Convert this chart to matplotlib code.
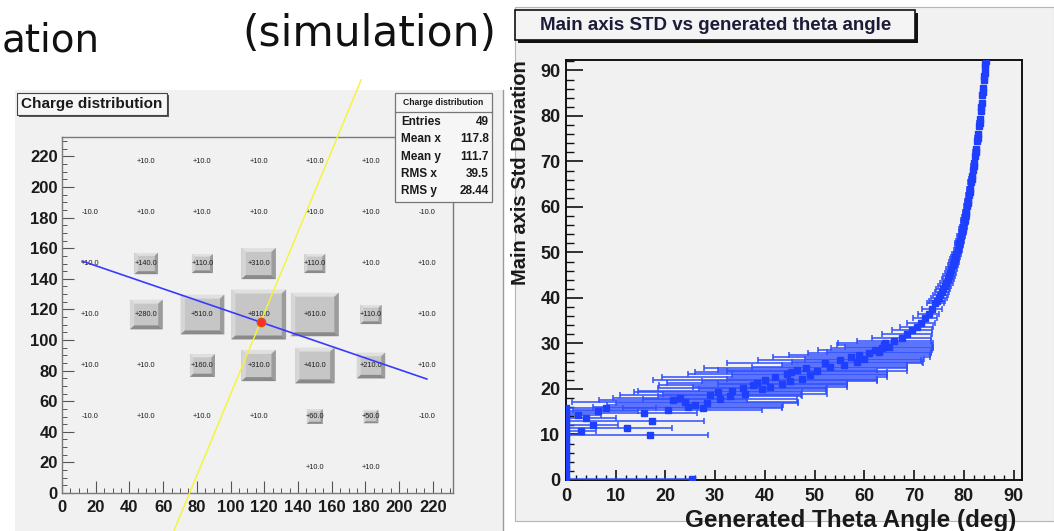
import numpy as np
import matplotlib
matplotlib.use("Agg")
import matplotlib.pyplot as plt
from matplotlib.patches import Rectangle, Polygon
from matplotlib.lines import Line2D
from matplotlib.ticker import MultipleLocator

# ---------------- data: left panel (charge distribution, 7x7 bins) ----------------
bin_centers = [16.67, 50.0, 83.33, 116.67, 150.0, 183.33, 216.67]
row_centers = [216.67, 183.33, 150.0, 116.67, 83.33, 50.0, 16.67]   # top -> bottom
charge_rows = [
    [None, 10.0, 10.0, 10.0, 10.0, 10.0, None],
    [-10.0, 10.0, 10.0, 10.0, 10.0, 10.0, -10.0],
    [10.0, 140.0, 110.0, 310.0, 110.0, 10.0, 10.0],
    [10.0, 280.0, 510.0, 810.0, 610.0, 110.0, 10.0],
    [10.0, 10.0, 160.0, 310.0, 410.0, 210.0, 10.0],
    [-10.0, 10.0, 10.0, 10.0, 60.0, 50.0, -10.0],
    [None, None, None, None, 10.0, 10.0, None],
]
left_ticks = [0, 20, 40, 60, 80, 100, 120, 140, 160, 180, 200, 220]
mean_xy = (117.8, 111.7)
main_axis_slope = -0.377
main_axis_xrange = (12.0, 216.5)
minor_axis_yrange = (-27.0, 270.0)
stat_labels = ["Entries", "Mean x", "Mean y", "RMS x", "RMS y"]
stat_values = ["49", "117.8", "111.7", "39.5", "28.44"]

# ---------------- data: right panel (std vs theta) ----------------
column_std = [0.3, 1.1, 2.4, 3.0, 4.2, 5.1, 5.7, 6.9, 7.8, 8.4, 9.5, 10.2,
              11.3, 12.0, 13.1, 13.8, 14.9, 15.8]
low_theta = [25.3, 16.9, 12.2, 17.3, 15.7, 3.0, 5.5, 4.0, 2.5, 6.5, 8.0]
low_std = [0.2, 9.9, 11.4, 13.0, 14.7, 10.8, 12.1, 13.6, 14.3, 15.2, 15.8]
low_err_lo = [25.3, 16.9, 12.2, 17.3, 15.7, 3.0, 5.5, 4.0, 2.5, 6.5, 8.0]
low_err_hi = [0.0, 11.7, 9.1, 10.5, 10.6, 3.0, 5.0, 6.0, 4.5, 8.0, 10.0]
band_theta = [20.5, 24.5, 26.0, 28.4, 24.0, 21.5, 22.9, 29.0, 30.6, 33.4, 35.5,
              37.6, 38.4, 40.0, 42.0, 45.3, 44.5, 46.5, 48.2, 52.0, 55.0, 57.4,
              61.0, 62.2, 64.0, 64.2,
              27.5, 31.0, 33.0, 36.0, 39.5, 41.0, 43.5, 45.0, 47.5, 49.0, 50.5,
              53.0, 56.0, 58.5, 60.0, 59.0, 63.0, 65.0, 63.5]
band_std = [15.4, 16.0, 16.5, 16.9, 17.1, 17.5, 18.0, 18.7, 19.3, 19.6, 20.2,
            20.9, 21.3, 22.0, 22.6, 23.7, 23.3, 24.2, 24.6, 25.7, 26.4, 27.0,
            27.9, 28.6, 29.7, 30.1,
            15.8, 17.8, 18.4, 19.0, 19.9, 20.5, 21.0, 21.7, 22.3, 23.0, 23.9,
            24.9, 25.3, 26.0, 26.6, 27.4, 28.2, 29.2, 29.0]
band_err = [19.0, 19.0, 17.7, 18.3, 22.7, 14.9, 13.5, 18.2, 16.9, 18.9, 17.0,
            18.9, 18.1, 22.6, 22.6, 19.3, 20.0, 16.0, 20.4, 19.7, 16.4, 15.8,
            12.4, 11.5, 9.6, 9.6,
            16.0, 15.5, 14.5, 16.5, 12.8, 15.5, 13.0, 17.6, 15.1, 15.6, 18.1,
            15.6, 12.5, 13.1, 12.0, 14.2, 10.5, 8.8, 10.3]
steep_theta = [66.0, 67.5, 68.6, 69.6, 70.5, 71.4, 72.2, 72.9, 73.6, 74.3, 74.6,
               75.0, 75.3, 75.6, 75.9, 76.2, 76.5, 76.8, 77.0, 77.3, 77.5, 77.8,
               78.0, 78.3, 78.5, 78.8, 79.0, 79.3, 79.5, 79.7, 79.9, 80.1, 80.3,
               80.5, 80.7, 80.9, 81.1, 81.3, 81.5, 81.7, 81.9, 82.1, 82.3, 82.5,
               82.7, 82.9, 83.1, 83.3, 83.45, 83.6, 83.75, 83.9, 84.05, 84.2,
               84.3, 84.4,
               80.5, 80.9, 81.2, 81.6, 82.0, 82.4, 82.8, 83.2, 83.5, 83.8, 84.1,
               84.35, 78.2, 79.1, 79.8, 80.2]
steep_std = [30.6, 31.3, 32.1, 32.9, 33.7, 34.6, 35.5, 36.5, 37.6, 38.8, 39.3,
             40.0, 40.6, 41.3, 42.0, 42.7, 43.4, 44.2, 44.9, 45.6, 46.4, 47.2,
             48.0, 48.9, 49.7, 50.6, 51.6, 52.6, 53.6, 54.6, 55.6, 56.7, 57.8,
             59.0, 60.2, 61.4, 62.7, 64.0, 65.4, 66.8, 68.2, 69.7, 71.2, 72.8,
             74.4, 76.0, 77.7, 79.4, 81.1, 82.8, 84.5, 86.2, 87.9, 89.5,
             90.8, 92.0,
             58.4, 60.8, 63.3, 66.1, 69.0, 72.0, 75.2, 78.5, 82.0, 85.3, 88.7,
             91.4, 48.5, 52.1, 55.1, 57.2]
steep_err = [7.5, 6.0, 5.0, 4.0, 3.4, 2.9, 2.5, 2.2, 2.0, 1.8, 1.7,
             1.6, 1.5, 1.4, 1.4, 1.3, 1.3, 1.2, 1.2, 1.1, 1.1, 1.0,
             1.0, 0.9, 0.9, 0.8, 0.8, 0.8, 0.8, 0.7, 0.7, 0.7, 0.7,
             0.6, 0.6, 0.6, 0.6, 0.6, 0.6, 0.5, 0.5, 0.5, 0.5, 0.5,
             0.5, 0.5, 0.5, 0.5, 0.4, 0.4, 0.4, 0.4, 0.4, 0.4, 0.4, 0.4,
             0.6, 0.6, 0.6, 0.5, 0.5, 0.5, 0.5, 0.5, 0.4, 0.4, 0.4,
             0.4, 0.9, 0.8, 0.7, 0.7]
right_ticks = [0, 10, 20, 30, 40, 50, 60, 70, 80, 90]

# ---------------- figure ----------------
W, H = 1054, 531
plt.rcParams['font.family'] = ['Liberation Sans', 'DejaVu Sans']
fig = plt.figure(figsize=(W / 100, H / 100), dpi=100)
fig.patch.set_facecolor('white')


def fx(px):
    return px / W


def fy(py):
    return 1 - py / H


def fig_rect(x0, y0, x1, y1):
    return [fx(x0), fy(y1), (x1 - x0) / W, (y1 - y0) / H]


def fig_box(x0, y0, x1, y1, **kw):
    r = Rectangle((fx(x0), fy(y1)), (x1 - x0) / W, (y1 - y0) / H,
                  transform=fig.transFigure, **kw)
    fig.add_artist(r)
    return r


# slide texts
fig.text(fx(2), fy(40), "ation", fontsize=28, family='DejaVu Sans',
         ha='left', va='center', color='#111111')
fig.text(fx(496), fy(34), "(simulation)", fontsize=30.5, family='DejaVu Sans',
         ha='right', va='center', color='#111111')

# canvases
fig_box(15, 90, 503, 531, facecolor='#f1f1f1', edgecolor='none', zorder=-10)
fig.add_artist(Line2D([fx(503), fx(503)], [fy(90), fy(531)], color='#9a9a9a',
                      lw=1.0, transform=fig.transFigure, zorder=-9))
fig_box(515, 7, 1054, 521, facecolor='#f1f1f1', edgecolor='#b5b5b5', lw=0.8,
        zorder=-10)

# ---------------- left axes ----------------
ax1 = fig.add_axes(fig_rect(62, 137, 453, 493))
ax1.set_facecolor('#f1f1f1')
ax1.set_xlim(0, 232)
ax1.set_ylim(0, 232.7)
for s in ax1.spines.values():
    s.set_color('#7a7a7a')
    s.set_linewidth(1.0)
ax1.set_xticks(left_ticks)
ax1.set_yticks(left_ticks)
ax1.set_xticklabels([str(t) for t in left_ticks], fontweight='bold')
ax1.set_yticklabels([str(t) for t in left_ticks], fontweight='bold')
ax1.xaxis.set_minor_locator(MultipleLocator(5))
ax1.yaxis.set_minor_locator(MultipleLocator(5))
ax1.tick_params(which='major', direction='in', length=8.5, width=0.8,
                color='#555555', labelsize=12, labelcolor='#1a1a1a', pad=3)
ax1.tick_params(which='minor', direction='in', length=3.5, width=0.7,
                color='#555555')
ax1.tick_params(axis='x', pad=5)

bw = 33.33
zmin, zmax = -10.0, 810.0
for r, yc in enumerate(row_centers):
    for c, xc in enumerate(bin_centers):
        v = charge_rows[r][c]
        if v is None:
            continue
        if v > 10.0:
            f = np.sqrt((v - zmin) / (zmax - zmin)) * 0.98
            hw = f * bw / 2
            x0, x1, y0, y1 = xc - hw, xc + hw, yc - hw, yc + hw
            b = min(2.6, 0.14 * 2 * hw)
            ax1.add_patch(Rectangle((x0, y0), x1 - x0, y1 - y0,
                                    facecolor='#c6c6c6', edgecolor='none', zorder=2))
            ax1.add_patch(Polygon([(x0, y1), (x1, y1), (x1 - b, y1 - b), (x0 + b, y1 - b)],
                                  facecolor='#e0e0e0', edgecolor='none', zorder=2))
            ax1.add_patch(Polygon([(x0, y0), (x0, y1), (x0 + b, y1 - b), (x0 + b, y0 + b)],
                                  facecolor='#d6d6d6', edgecolor='none', zorder=2))
            ax1.add_patch(Polygon([(x1, y0), (x1, y1), (x1 - b, y1 - b), (x1 - b, y0 + b)],
                                  facecolor='#9c9c9c', edgecolor='none', zorder=2))
            ax1.add_patch(Polygon([(x0, y0), (x1, y0), (x1 - b, y0 + b), (x0 + b, y0 + b)],
                                  facecolor='#8a8a8a', edgecolor='none', zorder=2))
        ax1.text(xc, yc, f"{v:+.1f}", fontsize=5.3, ha='center', va='center',
                 color='#1e1e1e', zorder=3)

mx, my = mean_xy
bx = np.array(main_axis_xrange)
ax1.plot(bx, my + main_axis_slope * (bx - mx), color='#3a3aff', lw=1.2, zorder=4)
yy = np.array(minor_axis_yrange)
perp = -1.0 / main_axis_slope
ax1.plot(mx + (yy - my) / perp, yy, color='#f5f530', lw=1.0, zorder=4, clip_on=False)
ax1.plot([mx], [my], 'o', ms=6, color='#ff2a2a', mec='#e05010', zorder=5)

# left title box
fig_box(19, 95, 169, 117, facecolor='#555555', edgecolor='none', zorder=5)
fig_box(17, 93, 167, 115, facecolor='#f6f6f6', edgecolor='#444444', lw=0.8, zorder=6)
fig.text(fx(92), fy(104.5), "Charge distribution", fontsize=11, fontweight='bold',
         ha='center', va='center', color='#1a1a1a', zorder=7)

# stats box
fig_box(395, 93, 492, 202, facecolor='#f6f6f6', edgecolor='#777777', lw=0.9, zorder=6)
fig.add_artist(Line2D([fx(395), fx(492)], [fy(112), fy(112)], color='#777777', lw=0.9,
                      transform=fig.transFigure, zorder=7))
fig.text(fx(443.5), fy(102.5), "Charge distribution", fontsize=6.2, fontweight='bold',
         ha='center', va='center', color='#1a1a1a', zorder=7)
for i, (lab, val) in enumerate(zip(stat_labels, stat_values)):
    yrow = 122 + 17.3 * i
    fig.text(fx(401), fy(yrow), lab, fontsize=8.5, fontweight='bold', ha='left',
             va='center', color='#1a1a1a', zorder=7)
    fig.text(fx(489), fy(yrow), val, fontsize=8.5, fontweight='bold', ha='right',
             va='center', color='#1a1a1a', zorder=7)

# ---------------- right axes ----------------
ax2 = fig.add_axes(fig_rect(566, 60, 1022, 480))
ax2.set_facecolor('#f1f1f1')
ax2.set_xlim(0, 91.7)
ax2.set_ylim(0, 92.3)
for s in ax2.spines.values():
    s.set_color('#111111')
    s.set_linewidth(1.4)
ax2.set_xticks(right_ticks)
ax2.set_yticks(right_ticks)
ax2.set_xticklabels([str(t) for t in right_ticks], fontweight='bold')
ax2.set_yticklabels([str(t) for t in right_ticks], fontweight='bold')
ax2.xaxis.set_minor_locator(MultipleLocator(2))
ax2.yaxis.set_minor_locator(MultipleLocator(2))
ax2.tick_params(axis='y', which='major', direction='in', length=12, width=1.2,
                color='#111111', labelsize=13, labelcolor='#1a1a1a', pad=4)
ax2.tick_params(axis='y', which='minor', direction='in', length=6, width=1.0,
                color='#111111')
ax2.tick_params(axis='x', which='major', direction='in', length=7, width=1.2,
                color='#111111', labelsize=13, labelcolor='#1a1a1a', pad=6)
ax2.tick_params(axis='x', which='minor', direction='in', length=3.5, width=1.0,
                color='#111111')

blue = '#1f3fff'
ekw = dict(fmt='s', ms=4.4, mfc=blue, mec=blue, ecolor='#2f4fff',
           elinewidth=1.1, capsize=2.3, capthick=1.1, zorder=3)
ax2.errorbar([0.0] * len(column_std), column_std, xerr=[[0.0] * len(column_std)] * 2, **ekw)
ax2.errorbar(low_theta, low_std, xerr=[low_err_lo, low_err_hi], **ekw)
ax2.errorbar(band_theta, band_std, xerr=[band_err, band_err], **ekw)
ax2.errorbar(steep_theta, steep_std, xerr=[steep_err, steep_err], **ekw)

# right title box
fig_box(518, 13, 918, 43, facecolor='#111111', edgecolor='none', zorder=5)
fig_box(515, 10, 915, 40, facecolor='#f4f4f4', edgecolor='#111111', lw=1.2, zorder=6)
fig.text(fx(716), fy(25), "Main axis STD vs generated theta angle", fontsize=13.5,
         fontweight='bold', ha='center', va='center', color='#1c1c38', zorder=7)

# axis titles
fig.text(fx(521), fy(60), "Main axis Std Deviation", fontsize=14.5, fontweight='bold',
         rotation=90, ha='center', va='top', color='#1a1a1a')
fig.text(fx(1016), fy(521), "Generated Theta Angle (deg)", fontsize=17.5,
         fontweight='bold', ha='right', va='center', color='#1a1a1a')

fig.savefig("out.png", dpi=100)
